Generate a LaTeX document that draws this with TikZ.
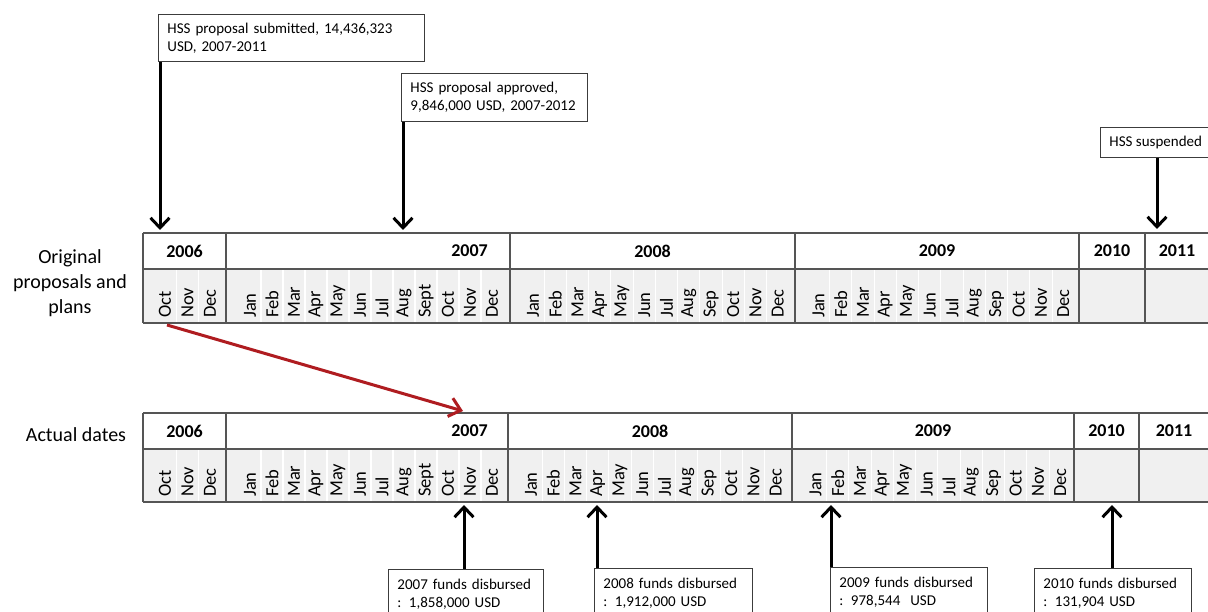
\documentclass[tikz,border=0pt]{standalone}
\usepackage{fontspec}
\setmainfont{Carlito}
\usetikzlibrary{arrows.meta}

\definecolor{gridgray}{RGB}{85,85,85}
\definecolor{monthfill}{RGB}{240,240,240}
\definecolor{boxedge}{RGB}{60,60,60}
\definecolor{shiftred}{RGB}{175,28,32}

\tikzset{
  gridrule/.style={draw=gridgray, line width=1.1pt},
  monthsep/.style={draw=white, line width=1.2pt},
  monthlbl/.style={rotate=90, anchor=west, inner sep=0pt, font=\fontsize{18.5}{18.5}\selectfont},
  yearlbl/.style={inner sep=0pt, font=\fontsize{18}{18}\selectfont\bfseries},
  rowlbl/.style={align=center, inner sep=0pt, font=\fontsize{20}{25}\selectfont},
  callout/.style={draw=boxedge, line width=0.9pt, fill=white, anchor=north west,
    align=left, inner xsep=9pt, inner ysep=0pt, font=\fontsize{15}{18}\selectfont},
  pointer/.style={draw=black, line width=3pt, -{Straight Barb[length=10pt,width=19pt]}},
  shiftpointer/.style={draw=shiftred, line width=3pt, -{Straight Barb[length=11pt,width=19pt]}},
}

% #1 name prefix, #2 top, #3 middle, #4 bottom rule (downwards),
% #5..#8 right ends of the 2007, 2008, 2009 and 2010 columns
\newcommand\drawtimeline[8]{%
  \fill[monthfill] (143,-#3) rectangle (1215,-#4);
  % light separators between month columns
  \foreach \i in {0,1} \draw[monthsep] ({165+22.5*(\i+0.5)},-#3) -- ({165+22.5*(\i+0.5)},-#4);
  \foreach \i in {0,...,10} {
    \draw[monthsep] ({250+22*(\i+0.5)},-#3) -- ({250+22*(\i+0.5)},-#4);
    \draw[monthsep] ({#5+23+22.25*(\i+0.5)},-#3) -- ({#5+23+22.25*(\i+0.5)},-#4);
    \draw[monthsep] ({#6+23.5+22.25*(\i+0.5)},-#3) -- ({#6+23.5+22.25*(\i+0.5)},-#4);
  }
  % rules
  \draw[gridrule] (143,-#2) -- (1215,-#2);
  \draw[gridrule] (143,-#3) -- (1215,-#3);
  \draw[gridrule] (143,-#4) -- (1215,-#4);
  \foreach \bx in {143,226,#5,#6,#7,#8} \draw[gridrule] (\bx,-#2) -- (\bx,-#4);
  % years
  \node[yearlbl] (#1y06) at (184.5,{-(#2+#3)/2}) {2006};
  \node[yearlbl, anchor=east] (#1y07) at (488,{-(#2+#3)/2}) {2007};
  \node[yearlbl] (#1y08) at ({(#5+#6)/2},{-(#2+#3)/2}) {2008};
  \node[yearlbl] (#1y09) at ({(#6+#7)/2},{-(#2+#3)/2}) {2009};
  \node[yearlbl] (#1y10) at ({(#7+#8)/2},{-(#2+#3)/2}) {2010};
  \node[yearlbl] (#1y11) at ({(#8+1209)/2},{-(#2+#3)/2}) {2011};
  % months
  \foreach \m [count=\i from 0] in {Oct,Nov,Dec}
    \node[monthlbl] at ({165+22.5*\i},{-#4+5}) {\m};
  \foreach \m [count=\i from 0] in {Jan,Feb,Mar,Apr,May,Jun,Jul,Aug,Sept,Oct,Nov,Dec}
    \node[monthlbl] at ({250+22*\i},{-#4+5}) {\m};
  \foreach \m [count=\i from 0] in {Jan,Feb,Mar,Apr,May,Jun,Jul,Aug,Sep,Oct,Nov,Dec}
    \node[monthlbl] at ({#5+23+22.25*\i},{-#4+5}) {\m};
  \foreach \m [count=\i from 0] in {Jan,Feb,Mar,Apr,May,Jun,Jul,Aug,Sep,Oct,Nov,Dec}
    \node[monthlbl] at ({#6+23.5+22.25*\i},{-#4+5}) {\m};
}

\begin{document}
\begin{tikzpicture}[x=1pt,y=1pt]
\useasboundingbox (0,0) rectangle (1208,-612);
\clip (0,0) rectangle (1208,-612);
\fill[white] (0,0) rectangle (1208,-612);

% the two timelines
\drawtimeline{plan}{233}{269}{323}{510}{795}{1079}{1145}
\drawtimeline{act}{413}{449}{502}{508}{792}{1074}{1139}

\node[rowlbl] (planlbl) at (70,-283) {Original\\proposals and\\plans};
\node[rowlbl] (actlbl) at (76,-435) {Actual dates};

% events on the original plan
\node[callout, text width=248pt, minimum height=47pt] (propsub) at (158,-14)
  {HSS proposal submitted, 14,436,323\\USD, 2007-2011};
\node[callout, text width=168pt, minimum height=48pt] (propapp) at (401,-73)
  {HSS proposal approved,\\9,846,000 USD, 2007-2012};
\node[callout, minimum width=107pt, minimum height=30pt] (susp) at (1100,-127)
  {HSS suspended};

\coordinate (subtip) at (160,-230);
\coordinate (apptip) at (403,-230);
\coordinate (susptip) at (1157,-229);
\draw[pointer] (propsub.south west -| subtip) -- (subtip);
\draw[pointer] (propapp.south west -| apptip) -- (apptip);
\draw[pointer] (susp.south -| susptip) -- (susptip);

% shift of the start date
\coordinate (shiftfrom) at (167,-325);
\coordinate (shiftto) at (463,-411);
\draw[shiftpointer] (shiftfrom) -- (shiftto);

% disbursements
\node[callout, text width=137pt, minimum height=50pt] (fund07) at (388,-569)
  {2007 funds disbursed\\: 1,858,000 USD};
\node[callout, text width=140pt, minimum height=50pt] (fund08) at (594,-568)
  {2008 funds disbursed\\: 1,912,000 USD};
\node[callout, text width=139pt, minimum height=50pt] (fund09) at (830,-567)
  {2009 funds disbursed\\: 978,544~ USD};
\node[callout, text width=139pt, minimum height=50pt] (fund10) at (1034,-568)
  {2010 funds disbursed\\: 131,904 USD};

\coordinate (tip07) at (464,-505);
\coordinate (tip08) at (597,-505);
\coordinate (tip09) at (831,-505);
\coordinate (tip10) at (1112,-505);
\draw[pointer] (fund07.north west -| tip07) -- (tip07);
\draw[pointer] (fund08.north west -| tip08) -- (tip08);
\draw[pointer] (fund09.north west -| tip09) -- (tip09);
\draw[pointer] (fund10.north west -| tip10) -- (tip10);
\end{tikzpicture}
\end{document}
